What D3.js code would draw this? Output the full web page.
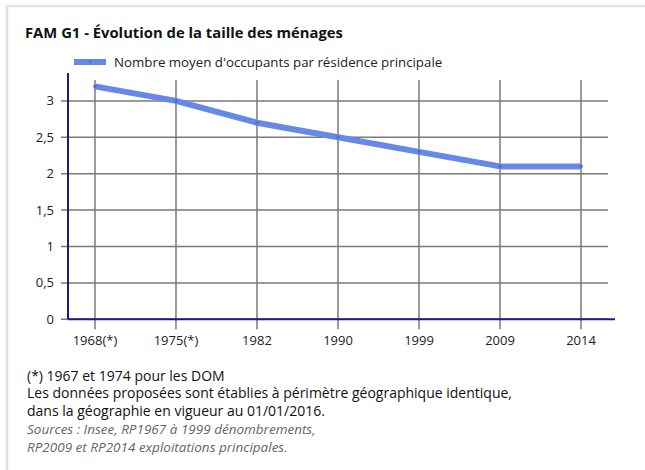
<!DOCTYPE html>
<html>
<head>
<meta charset="utf-8">
<script src="https://cdn.jsdelivr.net/npm/d3@7"></script>
<style>
  body { margin: 0; background: #fff; font-family: "Open Sans", sans-serif; }
</style>
</head>
<body>
<div id="chart"></div>
<script>
/* data */
var years = ["1968(*)", "1975(*)", "1982", "1990", "1999", "2009", "2014"];
var occupants = [3.2, 3.0, 2.7, 2.5, 2.3, 2.1, 2.1];
var yTicks = [0, 0.5, 1, 1.5, 2, 2.5, 3];
var seriesName = "Nombre moyen d'occupants par résidence principale";
var title = "FAM G1 - Évolution de la taille des ménages";
var notes = ["(*) 1967 et 1974 pour les DOM",
  "Les données proposées sont établies à périmètre géographique identique,",
  "dans la géographie en vigueur au 01/01/2016."];
var sources = ["Sources : Insee, RP1967 à 1999 dénombrements,",
  "RP2009 et RP2014 exploitations principales."];

var width = 645, height = 470;
var left = 68, right = 608, bottom = 319.3;

var svg = d3.select("#chart").append("svg")
  .attr("width", width).attr("height", height);

// card frame (only top/left edges visible)
svg.append("rect").attr("x", 7).attr("y", 6).attr("width", 700).attr("height", 500)
  .attr("fill", "#fff").attr("stroke", "#e2e2e2").attr("stroke-width", 2.5);

svg.append("text").attr("x", 25).attr("y", 37.5)
  .style("font-size", "14.8px").style("font-weight", "bold").attr("fill", "#111")
  .text(title);

var x = d3.scalePoint().domain(years).range([left, right]).padding(0.333);
var y = d3.scaleLinear().domain([0, 3]).range([bottom, bottom - 3 * 72.8]);

// horizontal grid
svg.append("g").selectAll("line").data(yTicks).enter().append("line")
  .attr("x1", left - 7).attr("x2", right)
  .attr("y1", function(d) { return y(d); }).attr("y2", function(d) { return y(d); })
  .attr("stroke", "#7a7a7a").attr("stroke-width", 1.5);

// vertical grid
svg.append("g").selectAll("line").data(years).enter().append("line")
  .attr("x1", function(d) { return x(d); }).attr("x2", function(d) { return x(d); })
  .attr("y1", 80).attr("y2", bottom + 10)
  .attr("stroke", "#7a7a7a").attr("stroke-width", 1.5);

// y labels
svg.append("g").selectAll("text").data(yTicks).enter().append("text")
  .attr("x", 54).attr("y", function(d) { return y(d); }).attr("dy", "0.35em")
  .attr("text-anchor", "end").style("font-size", "13px").attr("fill", "#222")
  .text(function(d) { return String(d).replace(".", ","); });

// x labels
svg.append("g").selectAll("text").data(years).enter().append("text")
  .attr("x", function(d) { return x(d); }).attr("y", bottom + 26)
  .attr("text-anchor", "middle").style("font-size", "13px").attr("fill", "#222")
  .text(function(d) { return d; });

// axes lines
svg.append("line").attr("x1", left).attr("x2", left).attr("y1", 73).attr("y2", bottom)
  .attr("stroke", "#1b1b7d").attr("stroke-width", 2);
svg.append("line").attr("x1", left).attr("x2", 615).attr("y1", bottom).attr("y2", bottom)
  .attr("stroke", "#1b1b7d").attr("stroke-width", 2);

// series
var line = d3.line()
  .x(function(d, i) { return x(years[i]); })
  .y(function(d) { return y(d); });

svg.append("path").datum(occupants).attr("d", line)
  .attr("fill", "none").attr("stroke", "#6689e8").attr("stroke-width", 6)
  .attr("stroke-linejoin", "round");

svg.append("g").selectAll("circle").data(occupants).enter().append("circle")
  .attr("cx", function(d, i) { return x(years[i]); })
  .attr("cy", function(d) { return y(d); })
  .attr("r", 1.8).attr("fill", "#4a6fe0");

// legend
svg.append("line").attr("x1", 74).attr("x2", 106).attr("y1", 62).attr("y2", 62)
  .attr("stroke", "#6689e8").attr("stroke-width", 6);
svg.append("circle").attr("cx", 90).attr("cy", 62).attr("r", 1.5).attr("fill", "#4a6fe0");
svg.append("text").attr("x", 114).attr("y", 62).attr("dy", "0.35em")
  .style("font-size", "13.3px").attr("fill", "#222").text(seriesName);

// notes
svg.append("g").selectAll("text").data(notes).enter().append("text")
  .attr("x", 27).attr("y", function(d, i) { return 380.7 + i * 17.6; })
  .style("font-size", "14px").attr("fill", "#111")
  .text(function(d) { return d; });
svg.append("g").selectAll("text").data(sources).enter().append("text")
  .attr("x", 27).attr("y", function(d, i) { return 434 + i * 17.7; })
  .style("font-size", "13.5px").style("font-style", "italic").attr("fill", "#666")
  .text(function(d) { return d; });
</script>
</body>
</html>
